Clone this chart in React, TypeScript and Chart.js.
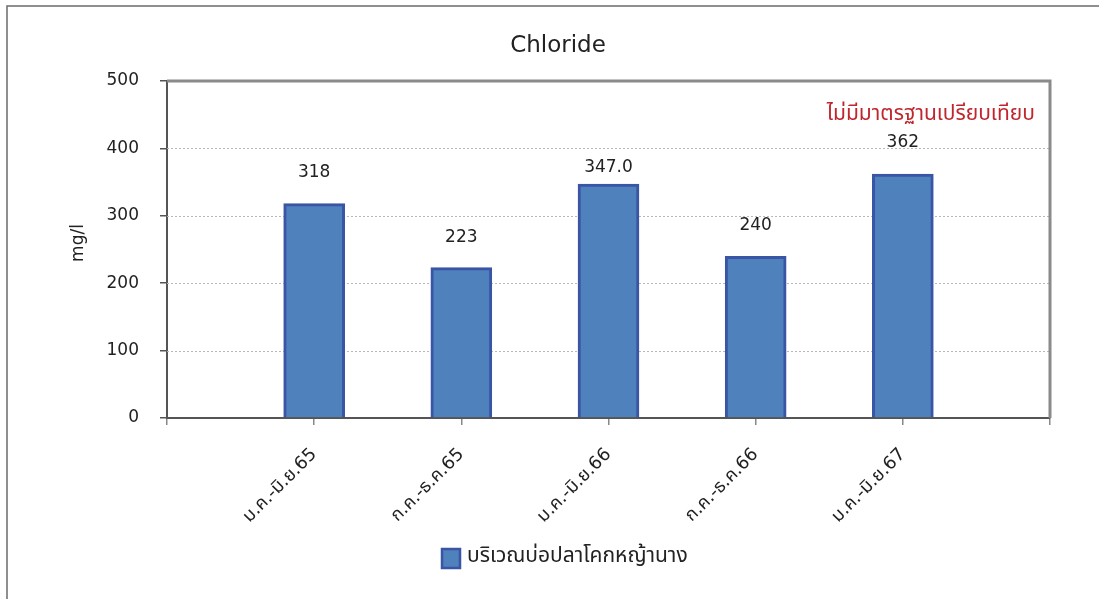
import React, { useEffect, useRef } from 'react';
import { Chart, registerables } from 'chart.js';

Chart.register(...registerables);

const categories = ['', 'ม.ค.-มิ.ย.65', 'ก.ค.-ธ.ค.65', 'ม.ค.-มิ.ย.66', 'ก.ค.-ธ.ค.66', 'ม.ค.-มิ.ย.67', ''];
const chlorideValues = [null, 318, 223, 347, 240, 362, null];
const valueLabels = ['', '318', '223', '347.0', '240', '362', ''];
const labelLift = [0, 31, 30, 17, 31, 31, 0];
const seriesName = 'บริเวณบ่อปลาโคกหญ้านาง';
const chartTitle = 'Chloride';
const yTitle = 'mg/l';
const noteText = 'ไม่มีมาตรฐานเปรียบเทียบ';
const yMin = 0;
const yMax = 500;
const yStep = 100;

const FONT = "'DejaVu Sans', 'Noto Sans', 'Noto Sans Thai', sans-serif";
const FILL = '#4f81bd';
const EDGE = '#3a55a6';

const decorPlugin = {
  id: 'decor',
  beforeDraw(chart: any) {
    const { ctx, width, height } = chart;
    ctx.save();
    ctx.fillStyle = '#fff';
    ctx.fillRect(0, 0, width, height);
    ctx.strokeStyle = '#6b6b6b';
    ctx.lineWidth = 1.5;
    ctx.beginPath();
    ctx.moveTo(7, height + 5);
    ctx.lineTo(7, 6);
    ctx.lineTo(width + 5, 6);
    ctx.stroke();
    ctx.restore();
  },
  beforeDatasetsDraw(chart: any) {
    const { ctx, chartArea } = chart;
    const y = chart.scales.y;
    ctx.save();
    ctx.strokeStyle = '#b8b8b8';
    ctx.lineWidth = 1;
    ctx.setLineDash([2, 2]);
    y.ticks.forEach((t: any) => {
      if (t.value === yMin || t.value === yMax) return;
      const py = Math.round(y.getPixelForValue(t.value)) + 0.5;
      ctx.beginPath();
      ctx.moveTo(chartArea.left, py);
      ctx.lineTo(chartArea.right, py);
      ctx.stroke();
    });
    ctx.setLineDash([]);
    ctx.strokeStyle = '#8a8a8a';
    ctx.lineWidth = 3;
    ctx.beginPath();
    ctx.moveTo(chartArea.left, chartArea.top);
    ctx.lineTo(chartArea.right, chartArea.top);
    ctx.lineTo(chartArea.right, chartArea.bottom);
    ctx.stroke();
    ctx.restore();
  },
  afterDatasetsDraw(chart: any) {
    const { ctx, chartArea } = chart;
    const meta = chart.getDatasetMeta(0);
    ctx.save();
    ctx.fillStyle = '#222';
    ctx.font = `17px ${FONT}`;
    ctx.textAlign = 'center';
    ctx.textBaseline = 'middle';
    meta.data.forEach((bar: any, i: number) => {
      if (chlorideValues[i] == null) return;
      ctx.fillText(valueLabels[i], bar.x, bar.y - labelLift[i]);
    });

    ctx.font = `23px ${FONT}`;
    ctx.fillText(chartTitle, 558, 46);

    ctx.save();
    ctx.translate(79, 243);
    ctx.rotate(-Math.PI / 2);
    ctx.font = `17px ${FONT}`;
    ctx.fillText(yTitle, 0, 0);
    ctx.restore();

    ctx.fillStyle = '#c0262d';
    ctx.font = `21px ${FONT}`;
    ctx.textAlign = 'right';
    ctx.fillText(noteText, chartArea.right - 15, 115);

    // legend
    ctx.fillStyle = FILL;
    ctx.strokeStyle = EDGE;
    ctx.lineWidth = 2.5;
    ctx.beginPath();
    ctx.rect(442, 549, 18, 19);
    ctx.fill();
    ctx.stroke();
    ctx.fillStyle = '#222';
    ctx.textAlign = 'left';
    ctx.font = `21px ${FONT}`;
    ctx.fillText(seriesName, 467, 557);
    ctx.restore();
  },
};

export default function App() {
  const ref = useRef<HTMLCanvasElement>(null);
  useEffect(() => {
    if (!ref.current) return;
    const chart = new Chart(ref.current, {
      type: 'bar',
      data: {
        labels: categories,
        datasets: [
          {
            label: seriesName,
            data: chlorideValues as any,
            backgroundColor: FILL,
            borderColor: EDGE,
            borderWidth: 3,
            barThickness: 61,
          },
        ],
      },
      plugins: [decorPlugin],
      options: {
        animation: false,
        responsive: false,
        layout: { padding: { top: 81, right: 49, left: 0, bottom: 0 } },
        plugins: {
          legend: { display: false },
          tooltip: { enabled: false },
          title: { display: false },
        },
        scales: {
          x: {
            type: 'category',
            offset: false,
            afterFit(scale: any) {
              scale.height = 181;
            },
            grid: {
              display: true,
              offset: false,
              drawOnChartArea: false,
              tickLength: 7,
              tickColor: '#888',
              lineWidth: 1.5,
            },
            border: { display: true, color: '#555', width: 2 },
            ticks: {
              autoSkip: false,
              maxRotation: 45,
              minRotation: 45,
              padding: 19,
              color: '#222',
              font: { size: 18, family: FONT },
            },
          },
          y: {
            min: yMin,
            max: yMax,
            afterFit(scale: any) {
              scale.width = 167;
            },
            grid: {
              display: true,
              drawOnChartArea: false,
              tickLength: 7,
              tickColor: '#555',
              lineWidth: 1.5,
            },
            border: { display: true, color: '#555', width: 2 },
            ticks: {
              stepSize: yStep,
              padding: 21,
              color: '#222',
              font: { size: 17, family: FONT },
            },
          },
        },
      },
    } as any);
    return () => chart.destroy();
  }, []);
  return (
    <div style={{ position: 'fixed', left: 0, top: 0, width: 1099, height: 599, overflow: 'hidden', background: '#fff' }}>
      <canvas ref={ref} width={1099} height={599} style={{ display: 'block' }} />
    </div>
  );
}
